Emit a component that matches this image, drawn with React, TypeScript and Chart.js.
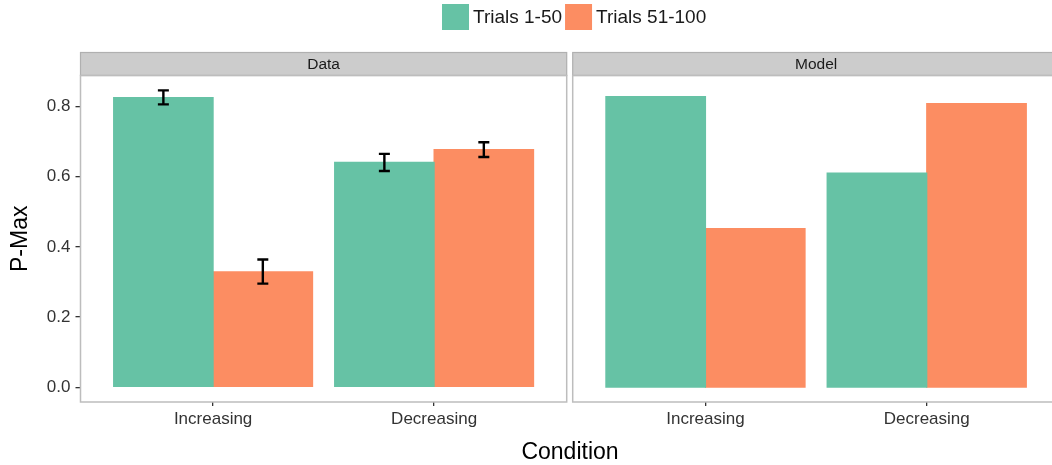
import React, { useEffect, useRef } from 'react';
import { Chart, registerables } from 'chart.js';

Chart.register(...registerables);

// ---- data ----
const categories = ['Increasing', 'Decreasing'];
const seriesNames = ['Trials 1-50', 'Trials 51-100'];
const panelTitles = ['Data', 'Model'];

const dataTrials1 = [0.825, 0.641];
const dataTrials2 = [0.329, 0.677];
const dataLow1 = [0.806, 0.616];
const dataHigh1 = [0.846, 0.665];
const dataLow2 = [0.295, 0.656];
const dataHigh2 = [0.364, 0.698];

const modelTrials1 = [0.828, 0.61];
const modelTrials2 = [0.452, 0.808];

const yTicks = [0, 0.2, 0.4, 0.6, 0.8];
const yTickLabels = ['0.0', '0.2', '0.4', '0.6', '0.8'];

const colors = ['#66C2A5', '#FC8D62'];
const FONT = "'Liberation Sans', Arial, Helvetica, sans-serif";

const allValues = [
  ...dataTrials1, ...dataTrials2, ...dataHigh1, ...dataHigh2, ...modelTrials1, ...modelTrials2,
];
const yDataMax = Math.max(...allValues);
const Y_MIN = -0.05 * yDataMax;
const Y_MAX = 1.05 * yDataMax;

const toPoints = (vals: number[]) => vals.map((v, i) => ({ x: i + 1, y: v }));

const panelPlugin = {
  id: 'panelDecor',
  afterDraw(chart: any, _args: any, opts: any) {
    const ctx = chart.ctx;
    const { left, right, top, bottom } = chart.chartArea;
    const stripH = 23;
    ctx.save();
    // strip
    ctx.fillStyle = '#cccccc';
    ctx.fillRect(left, top - stripH, right - left, stripH);
    ctx.strokeStyle = '#b0b0b0';
    ctx.lineWidth = 1.2;
    ctx.strokeRect(left, top - stripH, right - left, stripH);
    ctx.fillStyle = '#1a1a1a';
    ctx.font = `15.5px ${FONT}`;
    ctx.textAlign = 'center';
    ctx.textBaseline = 'middle';
    ctx.fillText(opts.title, (left + right) / 2, top - stripH / 2 + 1);
    // panel border
    ctx.strokeStyle = '#bdbdbd';
    ctx.lineWidth = 1.5;
    ctx.strokeRect(left, top, right - left, bottom - top);
    ctx.restore();
  },
};

const errorBarPlugin = {
  id: 'errorBars',
  afterDatasetsDraw(chart: any, _args: any, opts: any) {
    if (!opts || !opts.bars) return;
    const ctx = chart.ctx;
    const yScale = chart.scales.y;
    ctx.save();
    ctx.strokeStyle = '#000000';
    ctx.lineWidth = 2.4;
    opts.bars.forEach((pair: number[][], di: number) => {
      const [lows, highs] = pair;
      const meta = chart.getDatasetMeta(di);
      meta.data.forEach((el: any, i: number) => {
        const x = el.x;
        const y1 = yScale.getPixelForValue(lows[i]);
        const y2 = yScale.getPixelForValue(highs[i]);
        const hw = 5.5;
        ctx.beginPath();
        ctx.moveTo(x, y1);
        ctx.lineTo(x, y2);
        ctx.moveTo(x - hw, y1);
        ctx.lineTo(x + hw, y1);
        ctx.moveTo(x - hw, y2);
        ctx.lineTo(x + hw, y2);
        ctx.stroke();
      });
    });
    ctx.restore();
  },
};

const figurePlugin = {
  id: 'figureDecor',
  afterDraw(chart: any) {
    const ctx = chart.ctx;
    ctx.save();
    // legend
    const boxW = 27;
    const boxH = 26;
    const boxTop = 4;
    let x = 442;
    ctx.font = `19px ${FONT}`;
    ctx.textBaseline = 'middle';
    ctx.textAlign = 'left';
    seriesNames.forEach((name, i) => {
      ctx.fillStyle = colors[i];
      ctx.fillRect(x, boxTop, boxW, boxH);
      ctx.fillStyle = '#1a1a1a';
      ctx.fillText(name, x + boxW + 4, boxTop + boxH / 2 + 1);
      x += boxW + 4 + ctx.measureText(name).width + 3;
    });
    // x title
    ctx.font = `23px ${FONT}`;
    ctx.fillStyle = '#000000';
    ctx.textAlign = 'center';
    ctx.fillText('Condition', 570, 453);
    ctx.restore();
  },
};

function xScale() {
  return {
    type: 'linear' as const,
    min: 0.4,
    max: 2.6,
    offset: false,
    afterBuildTicks: (scale: any) => {
      scale.ticks = categories.map((_, i) => ({ value: i + 1 }));
    },
    afterFit: (scale: any) => {
      scale.height = 63;
    },
    ticks: {
      callback: (v: any) => categories[Math.round(v) - 1] ?? '',
      color: '#333333',
      font: { size: 17, family: FONT },
      padding: 3,
      maxRotation: 0,
      autoSkip: false,
    },
    grid: {
      offset: false,
      drawOnChartArea: false,
      drawTicks: true,
      tickLength: 4,
      color: '#333333',
      lineWidth: 1.3,
    },
    border: { display: false },
  };
}

function makeConfig(
  v1: number[],
  v2: number[],
  title: string,
  first: boolean,
  padding: any,
  bars: any
) {
  return {
    type: 'bar' as const,
    data: {
      datasets: [
        {
          label: seriesNames[0],
          data: toPoints(v1),
          backgroundColor: colors[0],
          borderWidth: 0,
          inflateAmount: 0.6,
          categoryPercentage: 0.9,
          barPercentage: 1.0,
        },
        {
          label: seriesNames[1],
          data: toPoints(v2),
          backgroundColor: colors[1],
          borderWidth: 0,
          inflateAmount: 0.6,
          categoryPercentage: 0.9,
          barPercentage: 1.0,
        },
      ],
    },
    options: {
      responsive: false,
      animation: false as const,
      devicePixelRatio: 1,
      layout: { padding },
      plugins: {
        legend: { display: false },
        tooltip: { enabled: false },
        panelDecor: { title },
        errorBars: { bars },
      },
      scales: {
        x: xScale(),
        y: {
          type: 'linear' as const,
          display: first,
          min: Y_MIN,
          max: Y_MAX,
          afterBuildTicks: (scale: any) => {
            scale.ticks = yTicks.map((v) => ({ value: v }));
          },
          afterFit: (scale: any) => {
            scale.width = first ? 80.5 : 0;
          },
          ticks: {
            callback: (_v: any, i: number) => yTickLabels[i],
            color: '#333333',
            font: { size: 17, family: FONT },
            padding: 5,
          },
          grid: {
            drawOnChartArea: false,
            drawTicks: true,
            tickLength: 5,
            color: '#333333',
            lineWidth: 1.3,
          },
          border: { display: false },
          title: {
            display: true,
            text: 'P-Max',
            color: '#000000',
            font: { size: 23, family: FONT },
            padding: { top: 7, bottom: 0 },
          },
        },
      },
    },
    plugins: first
      ? [panelPlugin, errorBarPlugin, figurePlugin]
      : [panelPlugin, errorBarPlugin],
  };
}

export default function App() {
  const ref1 = useRef<HTMLCanvasElement>(null);
  const ref2 = useRef<HTMLCanvasElement>(null);

  useEffect(() => {
    Chart.defaults.font.family = FONT;
    const c1 = new Chart(
      ref1.current as HTMLCanvasElement,
      makeConfig(
        dataTrials1,
        dataTrials2,
        panelTitles[0],
        true,
        { left: 0, top: 75.5, right: 1052 - 566.7, bottom: 0 },
        [
          [dataLow1, dataHigh1],
          [dataLow2, dataHigh2],
        ]
      ) as any
    );
    const c2 = new Chart(
      ref2.current as HTMLCanvasElement,
      makeConfig(
        modelTrials1,
        modelTrials2,
        panelTitles[1],
        false,
        { left: 572.7, top: 75.5, right: 1150 - 1059.5, bottom: 0 },
        null
      ) as any
    );
    return () => {
      c1.destroy();
      c2.destroy();
    };
  }, []);

  return (
    <div
      style={{
        position: 'fixed',
        left: 0,
        top: 0,
        width: 1052,
        height: 465,
        overflow: 'hidden',
        background: '#ffffff',
      }}
    >
      <canvas
        ref={ref1}
        width={1052}
        height={465}
        style={{ position: 'absolute', left: 0, top: 0, width: 1052, height: 465 }}
      />
      <canvas
        ref={ref2}
        width={1150}
        height={465}
        style={{ position: 'absolute', left: 0, top: 0, width: 1150, height: 465 }}
      />
    </div>
  );
}
